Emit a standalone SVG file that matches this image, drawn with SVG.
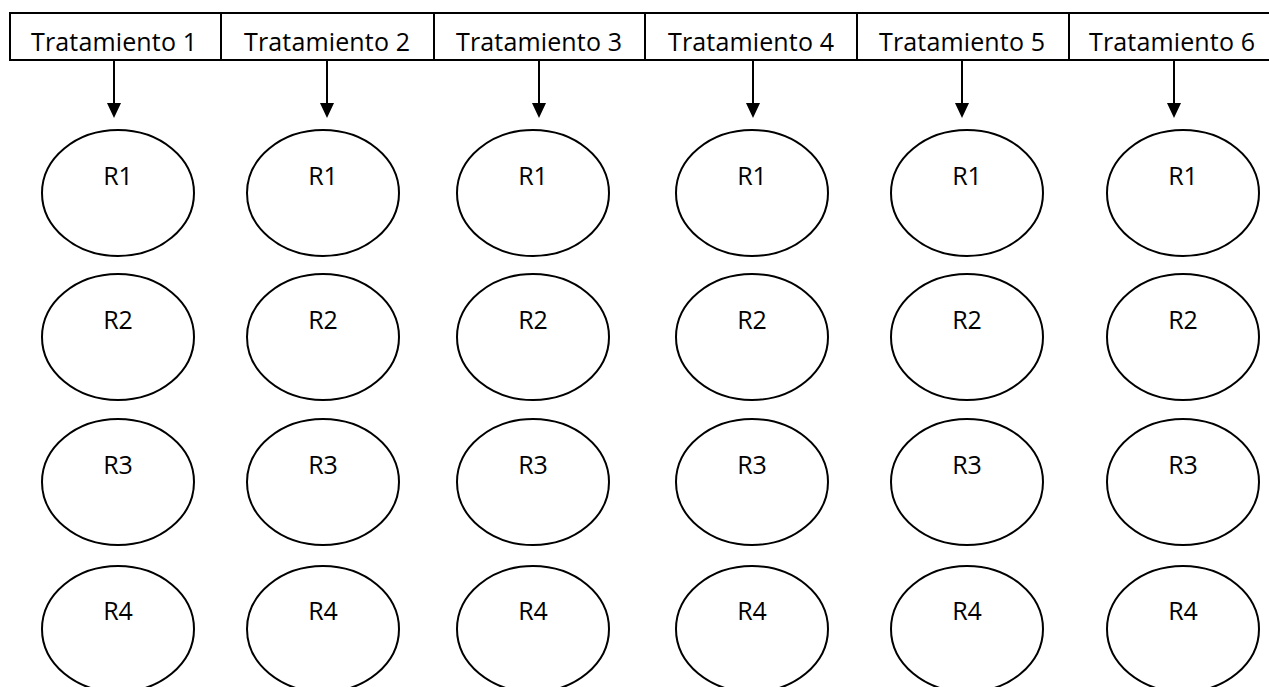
<svg xmlns="http://www.w3.org/2000/svg" width="1269" height="687" viewBox="0 0 1269 687">
<style>
  .hdr { fill: none; stroke: #000; stroke-width: 2; }
  .ht { font-family: "Open Sans", "Liberation Sans", sans-serif; font-size: 25px; fill: #000; text-anchor: middle; }
  .el { fill: #fff; stroke: #000; stroke-width: 2; }
  .rt { font-family: "Open Sans", "Liberation Sans", sans-serif; font-size: 25px; fill: #000; text-anchor: middle; }
  .ar { stroke: #000; stroke-width: 2; fill: none; }
</style>
<defs>
  <marker id="ah" markerUnits="userSpaceOnUse" markerWidth="15" markerHeight="14" refX="7" refY="7" orient="auto" viewBox="0 0 15 14">
    <path d="M0,0 L15,7 L0,14 z" fill="#000"/>
  </marker>
  <clipPath id="hclip"><rect x="0" y="13" width="1269" height="39"/></clipPath>
</defs>
<rect width="1269" height="687" fill="#fff"/>
<g id="header">
  <line class="hdr" x1="10" y1="13" x2="1269" y2="13"/>
  <line class="hdr" x1="10" y1="60" x2="1269" y2="60"/>
  <line class="hdr" x1="10" y1="12" x2="10" y2="61"/>
  <line class="hdr" x1="221" y1="13" x2="221" y2="60"/>
  <line class="hdr" x1="434" y1="13" x2="434" y2="60"/>
  <line class="hdr" x1="645" y1="13" x2="645" y2="60"/>
  <line class="hdr" x1="857" y1="13" x2="857" y2="60"/>
  <line class="hdr" x1="1069" y1="13" x2="1069" y2="60"/>
  <g clip-path="url(#hclip)">
    <text id="t1" class="ht" x="114" y="51" textLength="166">Tratamiento 1</text>
    <text id="t2" class="ht" x="327" y="51" textLength="166">Tratamiento 2</text>
    <text id="t3" class="ht" x="539" y="51" textLength="166">Tratamiento 3</text>
    <text id="t4" class="ht" x="751" y="51" textLength="166">Tratamiento 4</text>
    <text id="t5" class="ht" x="962" y="51" textLength="166">Tratamiento 5</text>
    <text id="t6" class="ht" x="1172" y="51" textLength="166">Tratamiento 6</text>
  </g>
</g>
<g id="connectors">
  <line class="ar" x1="114" y1="60" x2="114" y2="110" marker-end="url(#ah)"/>
  <line class="ar" x1="327" y1="60" x2="327" y2="110" marker-end="url(#ah)"/>
  <line class="ar" x1="539" y1="60" x2="539" y2="110" marker-end="url(#ah)"/>
  <line class="ar" x1="753" y1="60" x2="753" y2="110" marker-end="url(#ah)"/>
  <line class="ar" x1="962" y1="60" x2="962" y2="110" marker-end="url(#ah)"/>
  <line class="ar" x1="1174" y1="60" x2="1174" y2="110" marker-end="url(#ah)"/>
</g>
<g id="c1r1"><ellipse class="el" cx="118" cy="193" rx="76" ry="63"/><text class="rt" x="118" y="185">R1</text></g>
<g id="c1r2"><ellipse class="el" cx="118" cy="337" rx="76" ry="63"/><text class="rt" x="118" y="329">R2</text></g>
<g id="c1r3"><ellipse class="el" cx="118" cy="482" rx="76" ry="63"/><text class="rt" x="118" y="474">R3</text></g>
<g id="c1r4"><ellipse class="el" cx="118" cy="629" rx="76" ry="63"/><text class="rt" x="118" y="620">R4</text></g>
<g id="c2r1"><ellipse class="el" cx="323" cy="193" rx="76" ry="63"/><text class="rt" x="323" y="185">R1</text></g>
<g id="c2r2"><ellipse class="el" cx="323" cy="337" rx="76" ry="63"/><text class="rt" x="323" y="329">R2</text></g>
<g id="c2r3"><ellipse class="el" cx="323" cy="482" rx="76" ry="63"/><text class="rt" x="323" y="474">R3</text></g>
<g id="c2r4"><ellipse class="el" cx="323" cy="629" rx="76" ry="63"/><text class="rt" x="323" y="620">R4</text></g>
<g id="c3r1"><ellipse class="el" cx="533" cy="193" rx="76" ry="63"/><text class="rt" x="533" y="185">R1</text></g>
<g id="c3r2"><ellipse class="el" cx="533" cy="337" rx="76" ry="63"/><text class="rt" x="533" y="329">R2</text></g>
<g id="c3r3"><ellipse class="el" cx="533" cy="482" rx="76" ry="63"/><text class="rt" x="533" y="474">R3</text></g>
<g id="c3r4"><ellipse class="el" cx="533" cy="629" rx="76" ry="63"/><text class="rt" x="533" y="620">R4</text></g>
<g id="c4r1"><ellipse class="el" cx="752" cy="193" rx="76" ry="63"/><text class="rt" x="752" y="185">R1</text></g>
<g id="c4r2"><ellipse class="el" cx="752" cy="337" rx="76" ry="63"/><text class="rt" x="752" y="329">R2</text></g>
<g id="c4r3"><ellipse class="el" cx="752" cy="482" rx="76" ry="63"/><text class="rt" x="752" y="474">R3</text></g>
<g id="c4r4"><ellipse class="el" cx="752" cy="629" rx="76" ry="63"/><text class="rt" x="752" y="620">R4</text></g>
<g id="c5r1"><ellipse class="el" cx="967" cy="193" rx="76" ry="63"/><text class="rt" x="967" y="185">R1</text></g>
<g id="c5r2"><ellipse class="el" cx="967" cy="337" rx="76" ry="63"/><text class="rt" x="967" y="329">R2</text></g>
<g id="c5r3"><ellipse class="el" cx="967" cy="482" rx="76" ry="63"/><text class="rt" x="967" y="474">R3</text></g>
<g id="c5r4"><ellipse class="el" cx="967" cy="629" rx="76" ry="63"/><text class="rt" x="967" y="620">R4</text></g>
<g id="c6r1"><ellipse class="el" cx="1183" cy="193" rx="76" ry="63"/><text class="rt" x="1183" y="185">R1</text></g>
<g id="c6r2"><ellipse class="el" cx="1183" cy="337" rx="76" ry="63"/><text class="rt" x="1183" y="329">R2</text></g>
<g id="c6r3"><ellipse class="el" cx="1183" cy="482" rx="76" ry="63"/><text class="rt" x="1183" y="474">R3</text></g>
<g id="c6r4"><ellipse class="el" cx="1183" cy="629" rx="76" ry="63"/><text class="rt" x="1183" y="620">R4</text></g>
</svg>
